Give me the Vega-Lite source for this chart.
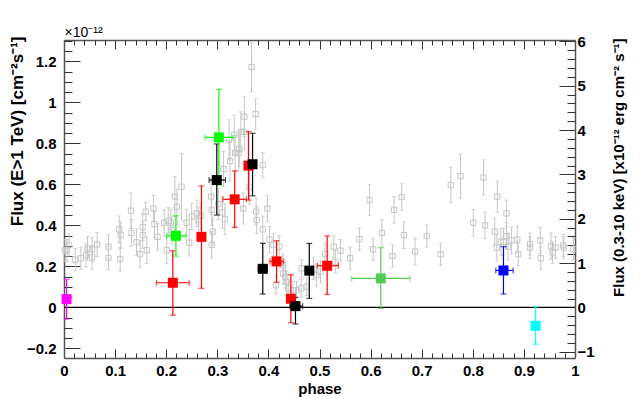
{
  "$schema": "https://vega.github.io/schema/vega-lite/v6.json",
  "width": 511,
  "height": 318,
  "autosize": "none",
  "padding": {"left": 64, "top": 40, "right": 65, "bottom": 41},
  "background": "white",
  "config": {
    "view": {"stroke": null},
    "axis": {"grid": false, "labelFont": "Liberation Sans", "labelFontWeight": "bold", "labelFontSize": 15, "labelColor": "black", "titleFont": "Liberation Sans", "titleFontWeight": "bold", "titleFontSize": 15, "titleColor": "black", "domainColor": "#555555", "domainWidth": 1.5, "tickColor": "#333333", "tickWidth": 1, "labelOverlap": false, "labelFlush": false, "labelBound": false}
  },
  "datasets": {
    "xray": [
      {"phase": 0.002, "v": 1.29, "e": 0.25}, {"phase": 0.006, "v": 1.28, "e": 0.25}, {"phase": 0.010, "v": 1.41, "e": 0.25},
      {"phase": 0.022, "v": 1.08, "e": 0.25}, {"phase": 0.033, "v": 1.11, "e": 0.25}, {"phase": 0.043, "v": 1.18, "e": 0.27},
      {"phase": 0.046, "v": 1.33, "e": 0.27}, {"phase": 0.055, "v": 1.31, "e": 0.27}, {"phase": 0.055, "v": 1.13, "e": 0.27},
      {"phase": 0.065, "v": 1.42, "e": 0.27}, {"phase": 0.087, "v": 1.37, "e": 0.27}, {"phase": 0.087, "v": 1.11, "e": 0.27},
      {"phase": 0.108, "v": 1.76, "e": 0.3}, {"phase": 0.111, "v": 1.63, "e": 0.3}, {"phase": 0.110, "v": 1.09, "e": 0.27},
      {"phase": 0.131, "v": 2.18, "e": 0.4}, {"phase": 0.132, "v": 1.68, "e": 0.3}, {"phase": 0.142, "v": 1.47, "e": 0.3},
      {"phase": 0.149, "v": 1.20, "e": 0.3}, {"phase": 0.154, "v": 1.81, "e": 0.3}, {"phase": 0.154, "v": 1.63, "e": 0.3},
      {"phase": 0.160, "v": 2.16, "e": 0.2}, {"phase": 0.162, "v": 1.29, "e": 0.3}, {"phase": 0.175, "v": 2.23, "e": 0.3},
      {"phase": 0.177, "v": 1.88, "e": 0.3}, {"phase": 0.183, "v": 1.59, "e": 0.3}, {"phase": 0.196, "v": 1.91, "e": 0.3},
      {"phase": 0.201, "v": 1.29, "e": 0.3}, {"phase": 0.204, "v": 1.95, "e": 0.3}, {"phase": 0.209, "v": 1.91, "e": 0.3},
      {"phase": 0.211, "v": 1.74, "e": 0.3}, {"phase": 0.217, "v": 2.50, "e": 0.45}, {"phase": 0.221, "v": 2.27, "e": 0.4},
      {"phase": 0.230, "v": 2.72, "e": 0.75}, {"phase": 0.240, "v": 1.91, "e": 0.3}, {"phase": 0.245, "v": 1.46, "e": 0.3},
      {"phase": 0.250, "v": 2.05, "e": 0.3}, {"phase": 0.260, "v": 2.12, "e": 0.3}, {"phase": 0.263, "v": 1.97, "e": 0.3},
      {"phase": 0.268, "v": 2.06, "e": 0.3}, {"phase": 0.288, "v": 2.50, "e": 0.4}, {"phase": 0.289, "v": 2.20, "e": 0.35},
      {"phase": 0.291, "v": 1.71, "e": 0.3}, {"phase": 0.289, "v": 1.41, "e": 0.3}, {"phase": 0.302, "v": 2.33, "e": 0.35},
      {"phase": 0.310, "v": 2.14, "e": 0.35}, {"phase": 0.312, "v": 3.12, "e": 0.4}, {"phase": 0.315, "v": 1.99, "e": 0.35},
      {"phase": 0.325, "v": 3.30, "e": 0.45}, {"phase": 0.323, "v": 3.78, "e": 0.45}, {"phase": 0.333, "v": 3.89, "e": 0.45},
      {"phase": 0.335, "v": 3.48, "e": 0.4}, {"phase": 0.342, "v": 3.48, "e": 0.4}, {"phase": 0.343, "v": 3.58, "e": 0.4},
      {"phase": 0.346, "v": 3.96, "e": 0.45}, {"phase": 0.353, "v": 3.96, "e": 0.4}, {"phase": 0.353, "v": 4.30, "e": 0.45},
      {"phase": 0.363, "v": 2.72, "e": 0.4}, {"phase": 0.367, "v": 5.42, "e": 0.56}, {"phase": 0.375, "v": 4.36, "e": 0.35},
      {"phase": 0.389, "v": 3.21, "e": 0.28}, {"phase": 0.351, "v": 2.23, "e": 0.35}, {"phase": 0.376, "v": 2.16, "e": 0.3},
      {"phase": 0.377, "v": 1.97, "e": 0.3}, {"phase": 0.398, "v": 2.23, "e": 0.3}, {"phase": 0.389, "v": 1.76, "e": 0.3},
      {"phase": 0.402, "v": 1.53, "e": 0.3}, {"phase": 0.410, "v": 1.41, "e": 0.25}, {"phase": 0.421, "v": 1.37, "e": 0.25},
      {"phase": 0.428, "v": 0.95, "e": 0.25}, {"phase": 0.429, "v": 0.77, "e": 0.25}, {"phase": 0.433, "v": 0.69, "e": 0.25},
      {"phase": 0.436, "v": 0.58, "e": 0.25}, {"phase": 0.415, "v": 0.50, "e": 0.2}, {"phase": 0.439, "v": 0.43, "e": 0.2},
      {"phase": 0.448, "v": 0.39, "e": 0.2}, {"phase": 0.455, "v": 0.39, "e": 0.2}, {"phase": 0.465, "v": 0.88, "e": 0.2},
      {"phase": 0.464, "v": 0.43, "e": 0.2}, {"phase": 0.475, "v": 0.47, "e": 0.2}, {"phase": 0.488, "v": 0.88, "e": 0.25},
      {"phase": 0.494, "v": 0.73, "e": 0.25}, {"phase": 0.502, "v": 0.80, "e": 0.25}, {"phase": 0.511, "v": 1.20, "e": 0.25},
      {"phase": 0.528, "v": 1.37, "e": 0.25}, {"phase": 0.531, "v": 1.03, "e": 0.25}, {"phase": 0.541, "v": 1.28, "e": 0.25},
      {"phase": 0.560, "v": 1.11, "e": 0.25}, {"phase": 0.578, "v": 1.54, "e": 0.25}, {"phase": 0.598, "v": 2.42, "e": 0.35},
      {"phase": 0.605, "v": 1.31, "e": 0.25}, {"phase": 0.622, "v": 1.68, "e": 0.3}, {"phase": 0.643, "v": 1.16, "e": 0.25},
      {"phase": 0.646, "v": 2.20, "e": 0.3}, {"phase": 0.661, "v": 2.49, "e": 0.3}, {"phase": 0.665, "v": 1.63, "e": 0.3},
      {"phase": 0.687, "v": 1.26, "e": 0.3}, {"phase": 0.710, "v": 1.61, "e": 0.25}, {"phase": 0.737, "v": 1.20, "e": 0.25},
      {"phase": 0.757, "v": 2.76, "e": 0.4}, {"phase": 0.776, "v": 2.96, "e": 0.5}, {"phase": 0.801, "v": 1.91, "e": 0.3},
      {"phase": 0.821, "v": 2.93, "e": 0.4}, {"phase": 0.824, "v": 1.85, "e": 0.3}, {"phase": 0.843, "v": 1.71, "e": 0.3},
      {"phase": 0.848, "v": 2.50, "e": 0.35}, {"phase": 0.847, "v": 1.35, "e": 0.3}, {"phase": 0.855, "v": 1.48, "e": 0.3},
      {"phase": 0.860, "v": 1.48, "e": 0.3}, {"phase": 0.866, "v": 2.12, "e": 0.3}, {"phase": 0.866, "v": 1.61, "e": 0.3},
      {"phase": 0.869, "v": 1.37, "e": 0.3}, {"phase": 0.876, "v": 1.51, "e": 0.3}, {"phase": 0.887, "v": 1.53, "e": 0.3},
      {"phase": 0.889, "v": 1.20, "e": 0.25}, {"phase": 0.912, "v": 1.43, "e": 0.25}, {"phase": 0.912, "v": 1.35, "e": 0.25},
      {"phase": 0.932, "v": 1.51, "e": 0.3}, {"phase": 0.933, "v": 1.11, "e": 0.25}, {"phase": 0.953, "v": 1.38, "e": 0.3},
      {"phase": 0.956, "v": 1.24, "e": 0.25}, {"phase": 0.962, "v": 1.35, "e": 0.25}, {"phase": 0.977, "v": 1.40, "e": 0.25},
      {"phase": 0.978, "v": 1.35, "e": 0.25}, {"phase": 0.997, "v": 1.32, "e": 0.25}
    ],
    "tev": [
      {"set": "a", "phase": 0.005, "v": 0.040, "lo": -0.057, "hi": 0.137, "xlo": null, "xhi": null},
      {"set": "b", "phase": 0.213, "v": 0.120, "lo": -0.038, "hi": 0.276, "xlo": 0.181, "xhi": 0.245},
      {"set": "c", "phase": 0.219, "v": 0.349, "lo": 0.250, "hi": 0.447, "xlo": 0.201, "xhi": 0.239},
      {"set": "b", "phase": 0.269, "v": 0.344, "lo": 0.093, "hi": 0.592, "xlo": null, "xhi": null},
      {"set": "c", "phase": 0.303, "v": 0.829, "lo": 0.597, "hi": 1.063, "xlo": 0.276, "xhi": 0.331},
      {"set": "d", "phase": 0.299, "v": 0.621, "lo": 0.450, "hi": 0.797, "xlo": 0.284, "xhi": 0.316},
      {"set": "b", "phase": 0.334, "v": 0.527, "lo": 0.390, "hi": 0.665, "xlo": 0.311, "xhi": 0.357},
      {"set": "b", "phase": 0.361, "v": 0.691, "lo": 0.523, "hi": 0.857, "xlo": null, "xhi": null},
      {"set": "d", "phase": 0.369, "v": 0.698, "lo": 0.544, "hi": 0.849, "xlo": null, "xhi": null},
      {"set": "d", "phase": 0.389, "v": 0.188, "lo": 0.065, "hi": 0.312, "xlo": 0.380, "xhi": 0.398},
      {"set": "b", "phase": 0.416, "v": 0.224, "lo": 0.123, "hi": 0.325, "xlo": 0.403, "xhi": 0.430},
      {"set": "b", "phase": 0.444, "v": 0.042, "lo": -0.075, "hi": 0.159, "xlo": 0.437, "xhi": 0.451},
      {"set": "d", "phase": 0.453, "v": 0.006, "lo": -0.081, "hi": 0.049, "xlo": 0.442, "xhi": 0.467},
      {"set": "d", "phase": 0.480, "v": 0.179, "lo": 0.044, "hi": 0.312, "xlo": null, "xhi": null},
      {"set": "b", "phase": 0.515, "v": 0.203, "lo": 0.063, "hi": 0.348, "xlo": 0.496, "xhi": 0.537},
      {"set": "e", "phase": 0.620, "v": 0.141, "lo": -0.005, "hi": 0.291, "xlo": 0.563, "xhi": 0.677},
      {"set": "f", "phase": 0.860, "v": 0.180, "lo": 0.065, "hi": 0.296, "xlo": 0.845, "xhi": 0.879},
      {"set": "g", "phase": 0.923, "v": -0.090, "lo": -0.180, "hi": 0.003, "xlo": null, "xhi": null}
    ]
  },
  "resolve": {"scale": {"x": "independent", "y": "independent"}, "axis": {"x": "independent", "y": "independent"}},
  "layer": [
    {
      "data": {"name": "xray"},
      "layer": [
        {
          "mark": {"type": "errorbar", "ticks": {"size": 4}, "color": "#c6c6c6", "thickness": 1},
          "encoding": {
            "x": {"field": "phase", "type": "quantitative", "scale": {"domain": [0, 1], "nice": false, "zero": false},
              "axis": {"orient": "bottom", "values": [0, 0.1, 0.2, 0.3, 0.4, 0.5, 0.6, 0.7, 0.8, 0.9, 1], "format": ".1~f", "tickSize": -9, "labelPadding": 14, "title": "phase", "titleY": 23}},
            "y": {"field": "v", "type": "quantitative", "scale": {"domain": [-1.14, 6.03], "nice": false, "zero": false},
              "axis": {"orient": "right", "values": [-1, 0, 1, 2, 3, 4, 5, 6], "format": "d", "tickSize": -16, "labelPadding": 18, "title": "Flux (0.3-10 keV) [x10⁻¹² erg cm⁻² s⁻¹]", "titleAngle": -90, "titleAnchor": "end", "titleBaseline": "alphabetic", "titleX": 48, "titleY": -2}},
            "yError": {"field": "e"}
          }
        },
        {
          "mark": {"type": "point", "shape": "square", "filled": false, "size": 28, "color": "#c6c6c6", "strokeWidth": 1, "opacity": 1},
          "encoding": {
            "x": {"field": "phase", "type": "quantitative"},
            "y": {"field": "v", "type": "quantitative"}
          }
        }
      ]
    },
    {
      "data": {"name": "tev"},
      "layer": [
        {
          "data": {"values": [{}]},
          "mark": {"type": "rule", "color": "black", "strokeWidth": 1.3},
          "encoding": {"y": {"datum": 0, "type": "quantitative", "title": "Flux (E>1 TeV) [cm⁻²s⁻¹]"}}
        },
        {
          "mark": {"type": "errorbar", "ticks": {"size": 6}, "thickness": 1.2},
          "encoding": {
            "x": {"field": "phase", "type": "quantitative", "title": "×10⁻¹²", "scale": {"domain": [0, 1], "nice": false, "zero": false},
              "axis": {"orient": "top", "values": [0, 0.1, 0.2, 0.3, 0.4, 0.5, 0.6, 0.7, 0.8, 0.9, 1], "labels": false, "tickSize": -9, "titleFontWeight": "normal", "titleFontSize": 14, "titleAnchor": "start", "titleAlign": "left", "titleX": 0, "titleY": -4, "titleBaseline": "alphabetic"}},
            "y": {"field": "lo", "type": "quantitative", "title": "Flux (E>1 TeV) [cm⁻²s⁻¹]", "scale": {"domain": [-0.247, 1.304], "nice": false, "zero": false},
              "axis": {"orient": "left", "values": [-0.2, 0, 0.2, 0.4, 0.6, 0.8, 1, 1.2], "format": "~g", "tickSize": -16, "labelPadding": 24, "titleFontSize": 17, "titleAngle": -90, "titleAnchor": "end", "titleBaseline": "alphabetic", "titleX": -42, "titleY": -4}},
            "y2": {"field": "hi"},
            "color": {"field": "set", "type": "nominal", "scale": {"domain": ["a", "b", "c", "d", "e", "f", "g"], "range": ["#ff00ff", "#ff0000", "#00ff00", "#000000", "#55cc55", "#0000ff", "#00ffff"]}, "legend": null}
          }
        },
        {
          "transform": [{"filter": "datum.xlo != null"}],
          "mark": {"type": "errorbar", "ticks": {"size": 6}, "thickness": 1.2},
          "encoding": {
            "x": {"field": "xlo", "type": "quantitative", "title": "×10⁻¹²"},
            "x2": {"field": "xhi"},
            "y": {"field": "v", "type": "quantitative", "title": "Flux (E>1 TeV) [cm⁻²s⁻¹]"},
            "color": {"field": "set", "type": "nominal", "legend": null}
          }
        },
        {
          "mark": {"type": "point", "shape": "square", "filled": true, "size": 100, "opacity": 1},
          "encoding": {
            "x": {"field": "phase", "type": "quantitative", "title": "×10⁻¹²"},
            "y": {"field": "v", "type": "quantitative", "title": "Flux (E>1 TeV) [cm⁻²s⁻¹]"},
            "color": {"field": "set", "type": "nominal", "legend": null}
          }
        }
      ]
    },
    {
      "data": {"name": "xray"},
      "mark": {"type": "point", "opacity": 0},
      "encoding": {
        "x": {"field": "phase", "type": "quantitative", "scale": {"domain": [0, 1], "nice": false, "zero": false},
          "axis": {"orient": "bottom", "values": [0.02, 0.04, 0.06, 0.08, 0.12, 0.14, 0.16, 0.18, 0.22, 0.24, 0.26, 0.28, 0.32, 0.34, 0.36, 0.38, 0.42, 0.44, 0.46, 0.48, 0.52, 0.54, 0.56, 0.58, 0.62, 0.64, 0.66, 0.68, 0.72, 0.74, 0.76, 0.78, 0.82, 0.84, 0.86, 0.88, 0.92, 0.94, 0.96, 0.98], "labels": false, "domain": false, "tickSize": -5, "title": null}},
        "y": {"field": "v", "type": "quantitative", "scale": {"domain": [-0.247, 1.304], "nice": false, "zero": false},
          "axis": {"orient": "left", "values": [-0.15, -0.1, -0.05, 0.05, 0.1, 0.15, 0.25, 0.3, 0.35, 0.45, 0.5, 0.55, 0.65, 0.7, 0.75, 0.85, 0.9, 0.95, 1.05, 1.1, 1.15, 1.25, 1.3], "labels": false, "domain": false, "tickSize": -8, "title": null}}
      }
    },
    {
      "data": {"name": "xray"},
      "mark": {"type": "point", "opacity": 0},
      "encoding": {
        "x": {"field": "phase", "type": "quantitative", "scale": {"domain": [0, 1], "nice": false, "zero": false},
          "axis": {"orient": "top", "values": [0.02, 0.04, 0.06, 0.08, 0.12, 0.14, 0.16, 0.18, 0.22, 0.24, 0.26, 0.28, 0.32, 0.34, 0.36, 0.38, 0.42, 0.44, 0.46, 0.48, 0.52, 0.54, 0.56, 0.58, 0.62, 0.64, 0.66, 0.68, 0.72, 0.74, 0.76, 0.78, 0.82, 0.84, 0.86, 0.88, 0.92, 0.94, 0.96, 0.98], "labels": false, "domain": false, "tickSize": -5, "title": null}},
        "y": {"field": "v", "type": "quantitative", "scale": {"domain": [-1.14, 6.03], "nice": false, "zero": false},
          "axis": {"orient": "right", "values": [-0.8, -0.6, -0.4, -0.2, 0.2, 0.4, 0.6, 0.8, 1.2, 1.4, 1.6, 1.8, 2.2, 2.4, 2.6, 2.8, 3.2, 3.4, 3.6, 3.8, 4.2, 4.4, 4.6, 4.8, 5.2, 5.4, 5.6, 5.8], "labels": false, "domain": false, "tickSize": -8, "title": null}}
      }
    }
  ]
}
